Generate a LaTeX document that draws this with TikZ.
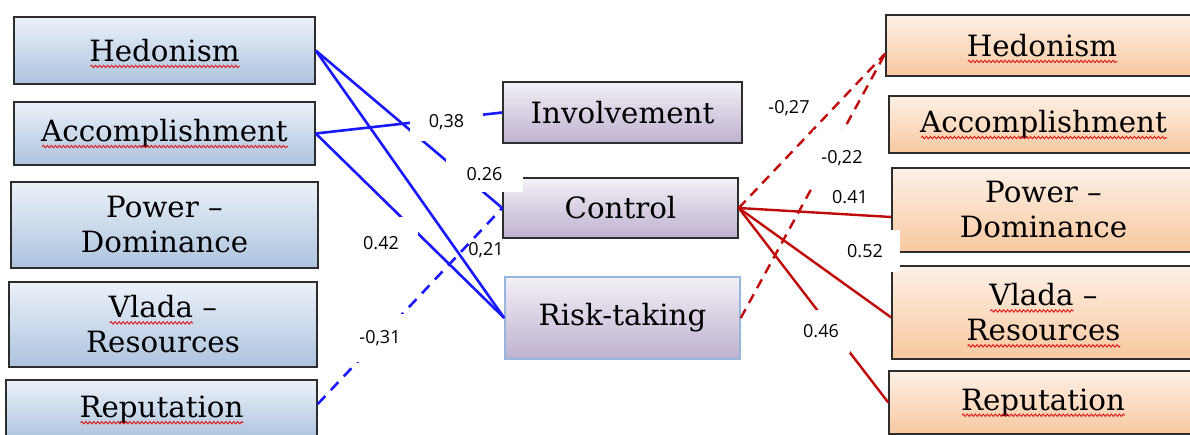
\documentclass[tikz,border=0pt]{standalone}
\usepackage{fontspec}
\setmainfont{DejaVu Serif}
\newfontfamily\labfont{Open Sans}
\usetikzlibrary{calc,decorations.pathmorphing}
\definecolor{lTop}{RGB}{236,241,248}
\definecolor{lBot}{RGB}{172,195,223}
\definecolor{mTop}{RGB}{243,240,246}
\definecolor{mBot}{RGB}{190,177,207}
\definecolor{rTop}{RGB}{253,240,230}
\definecolor{rBot}{RGB}{248,200,160}
\definecolor{boxline}{RGB}{45,45,45}
\definecolor{riskline}{RGB}{150,182,222}
\definecolor{bline}{RGB}{25,25,255}
\definecolor{rline}{RGB}{192,10,10}
\definecolor{squig}{RGB}{225,20,20}
\newsavebox\sqbox
\newcommand\sq[1]{\sbox\sqbox{#1}\hbox{\rlap{\usebox\sqbox}\tikz[overlay,baseline=0pt]{\draw[draw=squig,line width=0.9pt,decorate,decoration={snake,amplitude=1.2pt,segment length=4pt}] (1pt,-5pt) -- (\wd\sqbox,-5pt);}\hskip\wd\sqbox}}
\begin{document}
\begin{tikzpicture}[x=1pt,y=-1pt,
  box/.style={draw=boxline, line width=1.5pt, align=center, inner sep=0pt,
    font=\fontsize{29.3}{35}\selectfont},
  lbox/.style={box, top color=lTop, bottom color=lBot},
  mbox/.style={box, top color=mTop, bottom color=mBot},
  rbox/.style={box, top color=rTop, bottom color=rBot},
  bl/.style={draw=bline, line width=2.6pt},
  bld/.style={bl, dash pattern=on 11pt off 8pt},
  rl/.style={draw=rline, line width=2.4pt},
  rld/.style={rl, dash pattern=on 10pt off 7pt},
  lab/.style={font=\labfont\fontsize{18}{21}\selectfont, fill=white, inner sep=1pt}]
\useasboundingbox (0,0) rectangle (1190,435);
\fill[white] (0,0) rectangle (1190,435);
% left boxes
\node[lbox, minimum width=301, minimum height=67] (lH) at (164.5,50.5) {\sq{Hedonism}};
\node[lbox, minimum width=301, minimum height=63] (lA) at (164.5,133.5) {\sq{Accomplishment}};
\node[lbox, minimum width=307, minimum height=86] (lP) at (164.5,225) {Power –\\Dominance};
\node[lbox, minimum width=308, minimum height=85] (lV) at (163,324.5) {\sq{Vlada} –\\Resources};
\node[lbox, minimum width=311, minimum height=60] (lR) at (161.5,410) {\sq{Reputation}};
% middle boxes
\node[mbox, minimum width=239, minimum height=61] (Inv) at (622.5,112.5) {Involvement};
\node[mbox, minimum width=235, minimum height=60] (Ctl) at (620.5,208) {Control};
\node[mbox, draw=riskline, minimum width=235, minimum height=82] (Risk) at (622.5,318) {Risk-taking};
% right boxes
\node[rbox, minimum width=312, minimum height=61] (rH) at (1042,45.5) {\sq{Hedonism}};
\node[rbox, minimum width=309, minimum height=57] (rA) at (1043.5,124.5) {\sq{Accomplishment}};
\node[rbox, minimum width=303, minimum height=84] (rP) at (1043.5,210) {Power –\\Dominance};
\node[rbox, minimum width=303, minimum height=93] (rV) at (1043.5,312.5) {\sq{Vlada} –\\\sq{Resources}};
\node[rbox, minimum width=308, minimum height=63] (rR) at (1043,402.5) {\sq{Reputation}};
% blue connectors
\draw[bl] (lH.east) -- (Ctl.west);
\draw[bl] (lH.east) -- (Risk.west);
\draw[bl] (lA.east) -- (Inv.west);
\draw[bl] (lA.east) -- (Risk.west);
\draw[bld] ($(lR.east)+(0,-6)$) -- (Ctl.west);
% red connectors
\draw[rld] (Ctl.east) -- ($(rH.west)+(0,8)$);
\draw[rld] (Risk.east) -- ($(rH.west)+(0,8)$);
\draw[rl] (Ctl.east) -- ($(rP.west)+(0,7)$);
\draw[rl] (Ctl.east) -- ($(rV.west)+(0,5)$);
\draw[rl] (Ctl.east) -- (rR.west);
% labels
\node[lab, minimum width=73, minimum height=37] (l38) at (446.5,122.5) {0,38};
\node[lab, minimum width=77, minimum height=35] (l26) at (484.5,174.5) {0.26};
\node[lab, fill=none] (l21) at (486,250) {0,21};
\node[lab, minimum width=74, minimum height=52] (l42) at (381,243) {0.42};
\node[lab, minimum width=50, minimum height=48] (l31) at (380,338) {-0,31};
\node[lab] (l27) at (789,108) {-0,27};
\node[lab, minimum width=58, minimum height=57] (l22) at (842,158.5) {-0,22};
\node[lab, fill=none] (l41) at (850,197) {0.41};
\node[lab, minimum width=70, minimum height=42] (l52) at (865,251) {0.52};
\node[lab, minimum width=58, minimum height=43] (l46) at (821,331.5) {0.46};
\end{tikzpicture}
\end{document}
